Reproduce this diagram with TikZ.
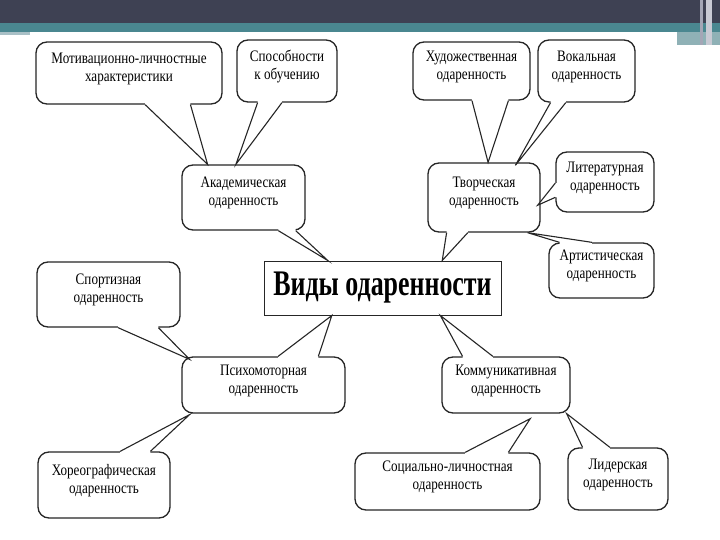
\documentclass[tikz,border=0pt]{standalone}
\usepackage{fontspec}
\setmainfont{Liberation Serif}[FakeStretch=0.82]
\newfontfamily\titlefont{Liberation Serif}[FakeStretch=0.72]
\usetikzlibrary{calc}
\definecolor{hdrdark}{HTML}{3E4153}
\definecolor{hdrteal}{HTML}{4A8790}
\definecolor{hdrlight}{HTML}{A9C0C6}
\definecolor{hdrpale}{HTML}{8FB1B6}
\definecolor{hdrgray}{HTML}{A4A6B6}
\definecolor{hdrgray2}{HTML}{C9CAD4}
% two-line label, set slightly above the box centre
\newcommand\twol[2]{\begin{tabular}{@{}c@{}}#1\\#2\\[9pt]\end{tabular}}
% #1,#2 base points, #3 tip, #4 inward offset
\newcommand\bubtail[4]{%
  \fill[white] ($(#1)+#4$) -- (#1) -- (#3) -- (#2) -- ($(#2)+#4$) -- cycle;
  \draw[tailline] (#1) -- (#3) -- (#2);}
\begin{document}
\begin{tikzpicture}[x=1pt,y=-1pt,
  bubble/.style={draw=black!85, line width=1.3pt, fill=white, rounded corners=11pt,
    font=\fontsize{16}{18}\selectfont, inner sep=0pt},
  tailline/.style={draw=black!85, line width=1.1pt, line join=miter},
  titlebox/.style={draw=black!85, line width=1pt, fill=white, inner sep=0pt,
    font=\titlefont\bfseries\fontsize{36}{40}\selectfont}]
\useasboundingbox (0,0) rectangle (720,540);
\fill[white] (0,0) rectangle (720,540);
% header
\fill[hdrdark] (0,0) rectangle (720,23);
\fill[hdrteal] (0,23) rectangle (720,32);
\fill[hdrlight] (0,32) rectangle (30,35);
\fill[hdrpale] (677,32) rectangle (720,45);
\fill[hdrgray] (700,0) rectangle (703,45);
\fill[hdrgray2] (706,0) rectangle (712,45);

% boxes
\node[bubble, minimum width=186pt, minimum height=62pt] (mot) at (129,73) {\twol{Мотивационно-личностные}{характеристики}};
\node[bubble, minimum width=100pt, minimum height=62pt] (spos) at (287,71) {\twol{Способности}{к обучению}};
\node[bubble, minimum width=123pt, minimum height=65pt] (acad) at (243.5,197.5) {\twol{Академическая}{одаренность}};
\node[bubble, minimum width=117pt, minimum height=58pt] (hud) at (471.5,71) {\twol{Художественная}{одаренность}};
\node[bubble, minimum width=97pt, minimum height=62pt] (vok) at (586.5,71) {\twol{Вокальная}{одаренность}};
\node[bubble, minimum width=112pt, minimum height=69pt] (tvor) at (484,197.5) {\twol{Творческая}{одаренность}};
\node[bubble, minimum width=98pt, minimum height=60pt] (lit) at (605,182) {\twol{Литературная}{одаренность}};
\node[bubble, minimum width=105pt, minimum height=55pt] (art) at (601.5,270.5) {\twol{Артистическая}{одаренность}};
\node[bubble, minimum width=143pt, minimum height=65pt] (sport) at (108.5,294.5) {\twol{Спортизная}{одаренность}};
\node[bubble, minimum width=163pt, minimum height=56pt] (psych) at (263.5,385) {\twol{Психомоторная}{одаренность}};
\node[bubble, minimum width=132pt, minimum height=66pt] (chor) at (104,485) {\twol{Хореографическая}{одаренность}};
\node[bubble, minimum width=128pt, minimum height=56pt] (kom) at (506,385) {\twol{Коммуникативная}{одаренность}};
\node[bubble, minimum width=185pt, minimum height=57pt] (soc) at (447.5,481.5) {\twol{Социально-личностная}{одаренность}};
\node[bubble, minimum width=100pt, minimum height=62pt] (lid) at (618,479) {\twol{Лидерская}{одаренность}};
\node[titlebox, minimum width=237pt, minimum height=54pt] (main) at (382.5,288) {Виды одаренности};

% tail points
\coordinate (mot1) at ($(mot.south west)!0.586!(mot.south east)$);
\coordinate (mot2) at ($(mot.south west)!0.828!(mot.south east)$);
\coordinate (motT) at ($(acad.north west)!0.211!(acad.north east)$);
\coordinate (spos1) at ($(spos.south west)!0.21!(spos.south east)$);
\coordinate (spos2) at ($(spos.south west)!0.45!(spos.south east)$);
\coordinate (sposT) at ($(acad.north west)!0.439!(acad.north east)$);
\coordinate (acad1) at ($(acad.south west)!0.78!(acad.south east)$);
\coordinate (acad2) at ($(acad.south west)!0.92!(acad.south east)$);
\coordinate (acadT) at ($(main.north west)!0.27!(main.north east)$);
\coordinate (hud1) at ($(hud.south west)!0.504!(hud.south east)$);
\coordinate (hud2) at ($(hud.south west)!0.812!(hud.south east)$);
\coordinate (hudT) at ($(tvor.north west)!0.536!(tvor.north east)$);
\coordinate (vok1) at ($(vok.south west)!0.134!(vok.south east)$);
\coordinate (vok2) at ($(vok.south west)!0.289!(vok.south east)$);
\coordinate (vokT) at ($(tvor.north west)!0.777!(tvor.north east)+(0,3)$);
\coordinate (lit1) at ($(lit.north west)!0.517!(lit.south west)$);
\coordinate (lit2) at ($(lit.north west)!0.75!(lit.south west)$);
\coordinate (litT) at ($(tvor.north east)!0.61!(tvor.south east)+(-3,0)$);
\coordinate (art1) at ($(art.north west)!0.105!(art.north east)$);
\coordinate (art2) at ($(art.north west)!0.41!(art.north east)$);
\coordinate (artT) at ($(tvor.south west)!0.884!(tvor.south east)$);
\coordinate (tvor1) at ($(tvor.south west)!0.17!(tvor.south east)$);
\coordinate (tvor2) at ($(tvor.south west)!0.357!(tvor.south east)$);
\coordinate (tvorT) at ($(main.north west)!0.751!(main.north east)$);
\coordinate (sport1) at ($(sport.south west)!0.566!(sport.south east)$);
\coordinate (sport2) at ($(sport.south west)!0.846!(sport.south east)$);
\coordinate (sportT) at ($(psych.north west)!0.05!(psych.north east)+(0,3)$);
\coordinate (psych1) at ($(psych.north west)!0.589!(psych.north east)$);
\coordinate (psych2) at ($(psych.north west)!0.834!(psych.north east)$);
\coordinate (psychT) at ($(main.south west)!0.287!(main.south east)$);
\coordinate (chor1) at ($(chor.north west)!0.621!(chor.north east)$);
\coordinate (chor2) at ($(chor.north west)!0.848!(chor.north east)$);
\coordinate (chorT) at ($(psych.south west)!0.05!(psych.south east)+(0,1)$);
\coordinate (kom1) at ($(kom.north west)!0.164!(kom.north east)$);
\coordinate (kom2) at ($(kom.north west)!0.398!(kom.north east)$);
\coordinate (komT) at ($(main.south west)!0.743!(main.south east)$);
\coordinate (soc1) at ($(soc.north west)!0.595!(soc.north east)$);
\coordinate (soc2) at ($(soc.north west)!0.827!(soc.north east)$);
\coordinate (socT) at ($(kom.south west)!0.6875!(kom.south east)+(0,5)$);
\coordinate (lid1) at ($(lid.north west)!0.15!(lid.north east)$);
\coordinate (lid2) at ($(lid.north west)!0.42!(lid.north east)$);
\coordinate (lidT) at ($(kom.south west)!0.969!(kom.south east)$);

% tails
\bubtail{mot1}{mot2}{motT}{(0,-3)}
\bubtail{spos1}{spos2}{sposT}{(0,-3)}
\bubtail{acad1}{acad2}{acadT}{(0,-3)}
\bubtail{hud1}{hud2}{hudT}{(0,-3)}
\bubtail{vok1}{vok2}{vokT}{(0,-3)}
\bubtail{lit1}{lit2}{litT}{(3,0)}
\bubtail{art1}{art2}{artT}{(0,3)}
\bubtail{tvor1}{tvor2}{tvorT}{(0,-3)}
\bubtail{sport1}{sport2}{sportT}{(0,-3)}
\bubtail{psych1}{psych2}{psychT}{(0,3)}
\bubtail{chor1}{chor2}{chorT}{(0,3)}
\bubtail{kom1}{kom2}{komT}{(0,3)}
\bubtail{soc1}{soc2}{socT}{(0,3)}
\bubtail{lid1}{lid2}{lidT}{(0,3)}
\end{tikzpicture}
\end{document}
